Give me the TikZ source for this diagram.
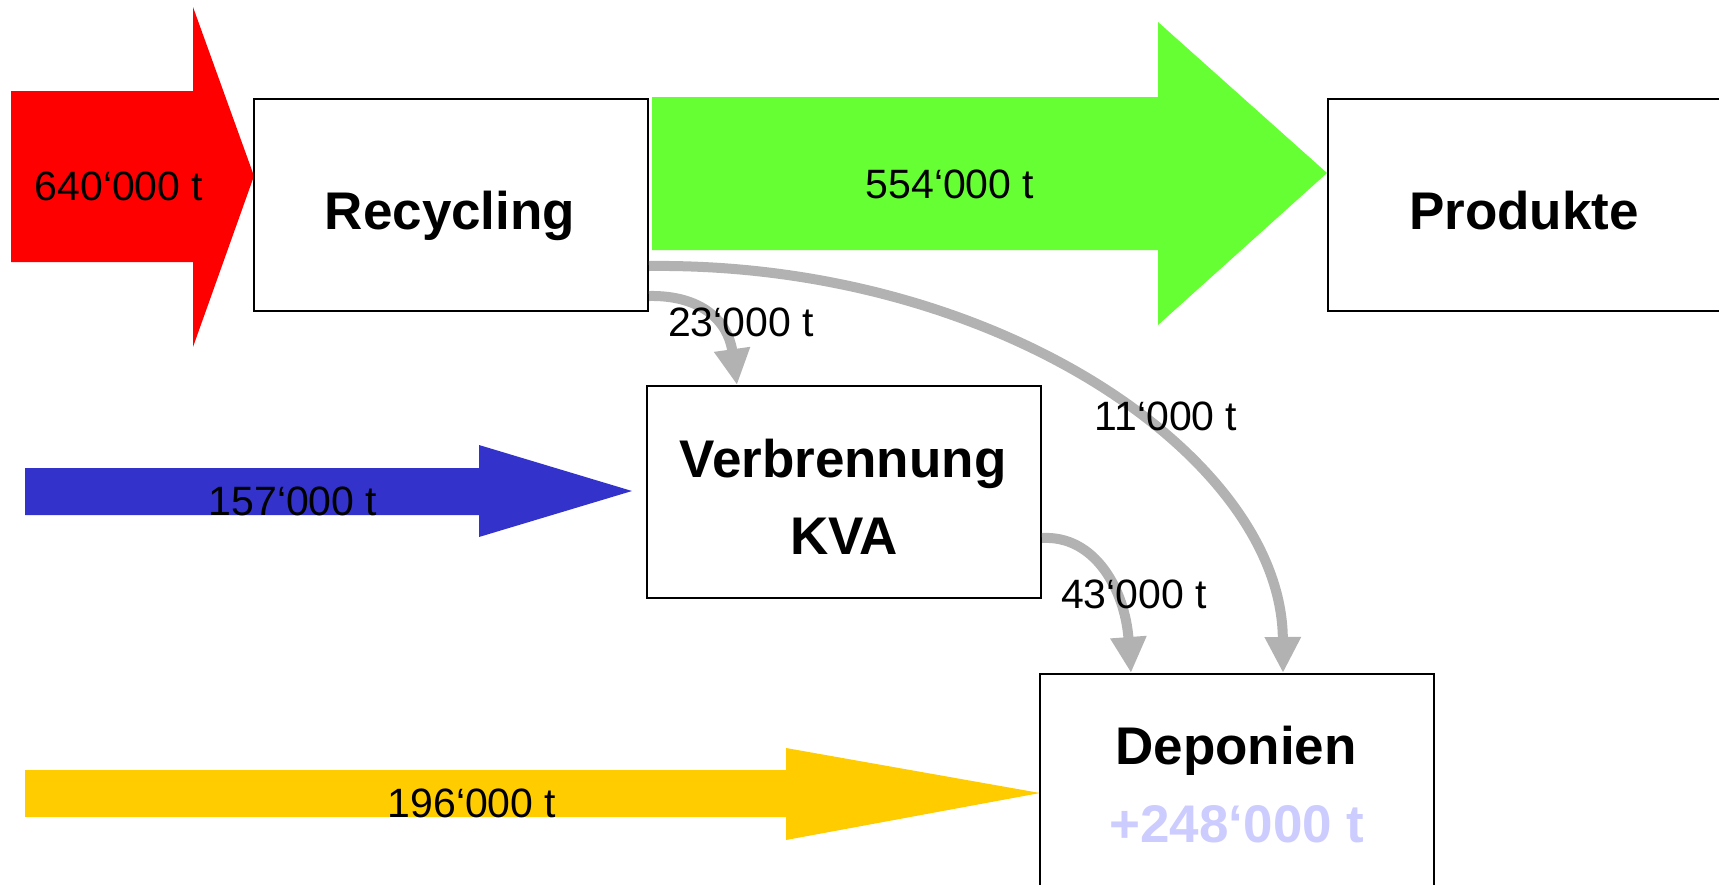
\documentclass[tikz,border=0pt]{standalone}
\usepackage{fontspec}
\setmainfont{Liberation Sans}
\usetikzlibrary{arrows.meta}
\definecolor{cred}{HTML}{FF0000}
\definecolor{cgreen}{HTML}{66FF33}
\definecolor{cblue}{HTML}{3333CC}
\definecolor{cyellow}{HTML}{FFCC00}
\definecolor{cgray}{HTML}{B2B2B2}
\definecolor{clav}{HTML}{CCCCFF}
\begin{document}
\begin{tikzpicture}[x=1pt,y=-1pt,
  box/.style={draw=black, line width=2pt, fill=white, rectangle, inner sep=0pt, anchor=north west},
  title/.style={font=\fontsize{53}{60}\selectfont\bfseries, inner sep=0pt, anchor=base},
  qty/.style={font=\fontsize{41}{48}\selectfont, inner sep=0pt, anchor=base},
  flow/.style={draw=cgray, line width=10pt, -{Triangle[length=36pt,width=34pt]}},
]
\useasboundingbox (0,0) rectangle (1719,884);
% big flow arrows
\fill[cred] (11,91) -- (193,91) -- (193,7) -- (254,176) -- (193,347) -- (193,262) -- (11,262) -- cycle;
\fill[cgreen] (652,97) -- (1158,97) -- (1158,22) -- (1327,173) -- (1158,325) -- (1158,250) -- (652,250) -- cycle;
\fill[cblue] (25,468) -- (479,468) -- (479,445) -- (632,491) -- (479,537) -- (479,515) -- (25,515) -- cycle;
\fill[cyellow] (25,770) -- (786,770) -- (786,748) -- (1040,793) -- (786,840) -- (786,817) -- (25,817) -- cycle;
% boxes
\node[box, minimum width=394pt, minimum height=212pt] (rec) at (253,98) {};
\node[box, minimum width=420pt, minimum height=212pt] (prod) at (1327,98) {};
\node[box, minimum width=394pt, minimum height=212pt] (verb) at (646,385) {};
\node[box, minimum width=394pt, minimum height=230pt] (dep) at (1039,673) {};
% box texts
\node[title] at (450,229) {Recycling};
\node[title] at (1524,229) {Produkte};
\node[title] at (843,477) {Verbrennung};
\node[title] at (844,554) {KVA};
\node[title] at (1236,764) {Deponien};
\node[title, text=clav] at (1237,842) {+248‘000 t};
% quantities on big arrows
\node[qty] at (119,200) {640‘000 t};
\node[qty] at (950,198) {554‘000 t};
\node[qty] at (293,515) {157‘000 t};
\node[qty] at (472,817) {196‘000 t};
% grey connectors
\draw[flow] ([yshift=-91pt]rec.east) .. controls (700,295) and (728,320) .. ([xshift=-107pt]verb.north);
\draw[flow] ([yshift=-61pt]rec.east) .. controls (1000,262) and (1282,460) .. ([xshift=46pt]dep.north);
\draw[flow] ([yshift=-46pt]verb.east) .. controls (1095,535) and (1125,590) .. ([xshift=-106pt]dep.north);
\node[qty] at (741,336) {23‘000 t};
\node[qty] at (1166,430) {11‘000 t};
\node[qty] at (1134,608) {43‘000 t};
\end{tikzpicture}
\end{document}
